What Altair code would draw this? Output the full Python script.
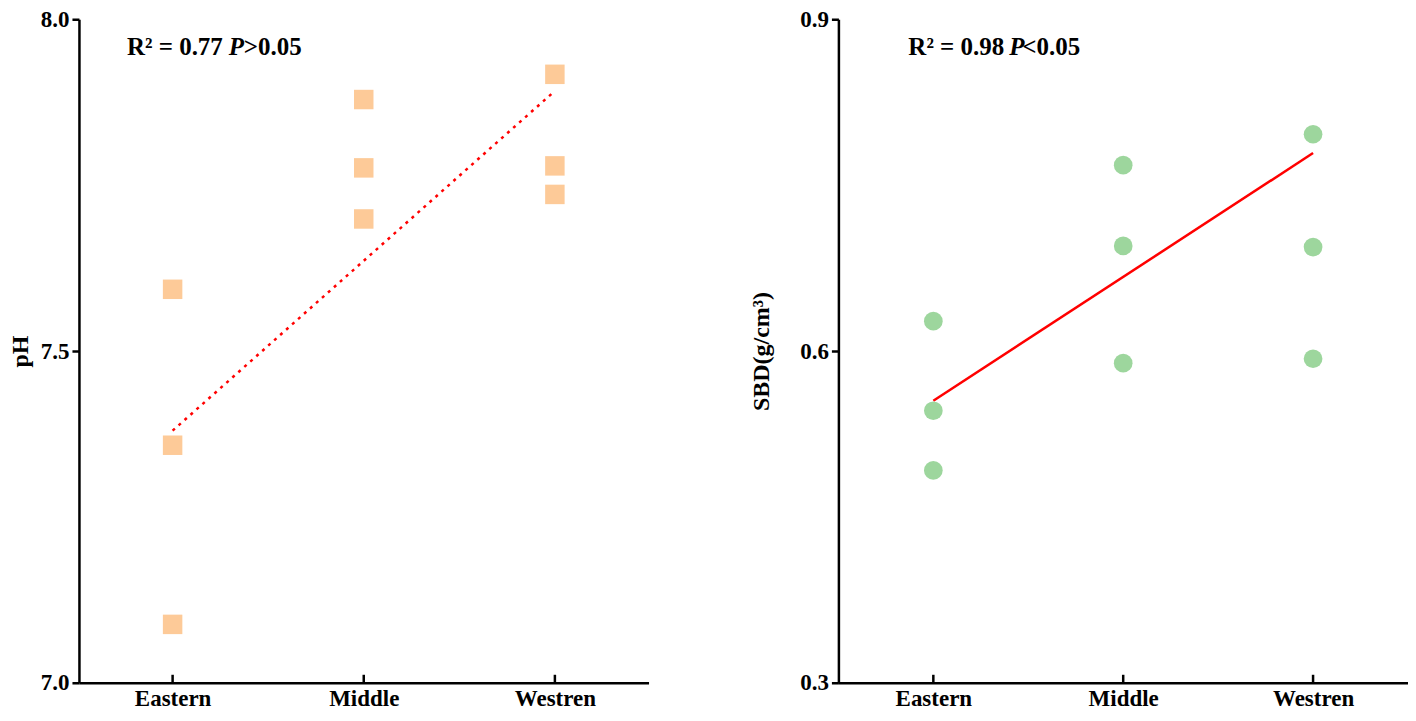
import altair as alt
import pandas as pd

regions = ["Eastern", "Middle", "Westren"]

# pH (left panel), three replicates per region
ph_region = ["Eastern", "Eastern", "Eastern", "Middle", "Middle", "Middle", "Westren", "Westren", "Westren"]
ph_values = [7.593, 7.358, 7.088, 7.879, 7.776, 7.699, 7.917, 7.779, 7.736]
ph_trend_region = ["Eastern", "Westren"]
ph_trend_values = [7.38, 7.892]

# SBD (right panel)
sbd_region = ["Eastern", "Eastern", "Eastern", "Middle", "Middle", "Middle", "Westren", "Westren", "Westren"]
sbd_values = [0.627, 0.546, 0.492, 0.768, 0.695, 0.589, 0.796, 0.694, 0.593]
sbd_trend_region = ["Eastern", "Westren"]
sbd_trend_values = [0.555, 0.779]

ph_note = ["R² = 0.77", "P", ">0.05"]
sbd_note = ["R² = 0.98", "P", "<0.05"]

FONT = "Liberation Serif"
H = 664


def panel(region, values, t_region, t_values, note, note_x, y_domain, y_ticks, y_title,
          color, shape, size, dash, width, pad, title_pad):
    pts = pd.DataFrame({"region": region, "value": values})
    trend = pd.DataFrame({"region": t_region, "value": t_values})
    cats = pd.DataFrame({"region": regions})
    xenc = alt.X("region:N", sort=regions,
                 scale=alt.Scale(type="point", padding=pad),
                 axis=alt.Axis(title=None, ticks=False, labelPadding=5))
    yenc = alt.Y("value:Q", scale=alt.Scale(domain=y_domain, nice=False, zero=False),
                 axis=alt.Axis(values=y_ticks, format=".1f", title=y_title,
                               titlePadding=title_pad, grid=False))
    line_kw = dict(color="#ff0000", strokeWidth=2.5)
    if dash:
        line_kw["strokeDash"] = [3, 5]
    line = alt.Chart(trend).mark_line(**line_kw).encode(x=xenc, y=yenc)
    points = alt.Chart(pts).mark_point(shape=shape, filled=True, size=size,
                                        color=color, opacity=1).encode(x=xenc, y=yenc)
    ticks = alt.Chart(cats).mark_rule(color="black", strokeWidth=2.5).encode(
        x=alt.X("region:N", sort=regions), y=alt.value(H - 8), y2=alt.value(H))
    texts = []
    for t, xp, it in zip(note, note_x, [False, True, False]):
        texts.append(alt.Chart(pd.DataFrame({"t": [t]})).mark_text(
            font=FONT, fontSize=25, fontWeight="bold",
            fontStyle="italic" if it else "normal",
            align="left", baseline="alphabetic", color="black").encode(
            x=alt.value(xp), y=alt.value(36), text="t:N"))
    return alt.layer(line, points, ticks, *texts).properties(width=width, height=H)


left = panel(ph_region, ph_values, ph_trend_region, ph_trend_values, ph_note, [48, 150, 165],
             [7.0, 8.0], [7.0, 7.5, 8.0], "pH", "#fdca98", "square", 380, True, 570, 0.49, 8)
right = panel(sbd_region, sbd_values, sbd_trend_region, sbd_trend_values, sbd_note, [70, 171, 184],
              [0.3, 0.9], [0.3, 0.6, 0.9], "SBD(g/cm³)", "#9dd69d", "circle", 350, False, 570, 0.5, 26)

chart = alt.hconcat(left, right, spacing=101).properties(
    padding={"left": 0, "top": 0, "right": 0, "bottom": 0}
).configure_view(stroke=None).configure_axis(
    labelFont=FONT, labelFontSize=23, labelFontWeight="bold", labelColor="black",
    titleFont=FONT, titleFontSize=24, titleFontWeight="bold", titleColor="black",
    domainColor="black", domainWidth=2.5, tickColor="black", tickWidth=2.5,
    tickSize=7, labelPadding=3, labelAngle=0
)

chart.save("out.html", embed_options={"renderer": "svg", "actions": False})
